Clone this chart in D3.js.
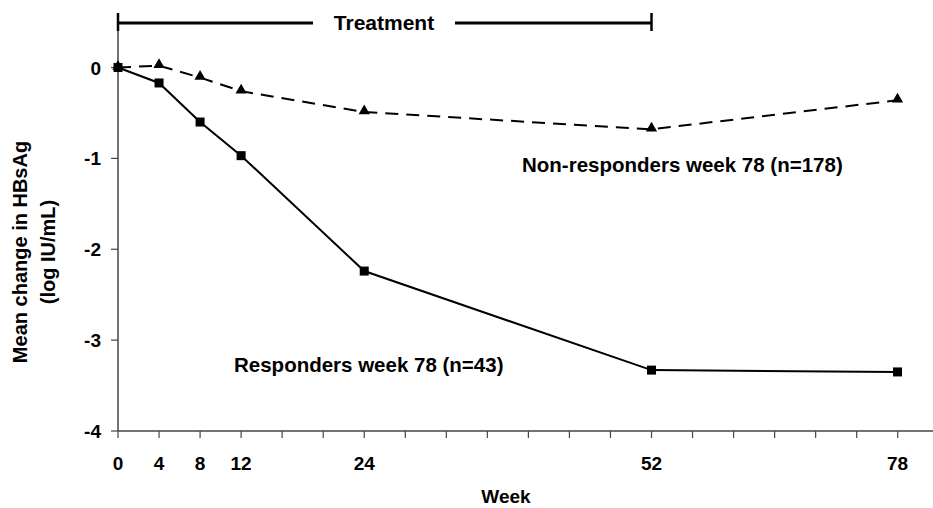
<!DOCTYPE html>
<html>
<head>
<meta charset="utf-8">
<script src="https://cdn.jsdelivr.net/npm/d3@7"></script>
<style>
  body { margin: 0; background: #fff; }
  text { font-family: "Liberation Sans", Arial, sans-serif; font-weight: bold; fill: #000; }
</style>
</head>
<body>
<div id="chart"></div>
<script>
// data
var weeks = [0, 4, 8, 12, 24, 52, 78];
var responders = [0, -0.17, -0.60, -0.97, -2.24, -3.33, -3.35];
var nonResponders = [0, 0.02, -0.11, -0.26, -0.49, -0.68, -0.36];
var xTickLabels = [0, 4, 8, 12, 24, 52, 78];
var yTickLabels = [0, -1, -2, -3, -4];
var treatmentWeeks = [0, 52];

var width = 933, height = 508;

var svg = d3.select("#chart")
  .append("svg")
  .attr("width", width)
  .attr("height", height);

// x axis in the original is not linear after week 52 (78 sits where 76 would be)
var x = d3.scaleLinear()
  .domain([0, 52, 78])
  .range([118, 651.5, 897.5]);
var y = d3.scaleLinear()
  .domain([-4, 0.6])
  .range([431, 13]);

var step = x(4) - x(0);
var minorTicks = d3.range(0, 20).map(function(i) { return x.invert(x(0) + i * step); });

// axes
var axisColor = "#444";
svg.append("line")
  .attr("x1", x(0)).attr("x2", x(0))
  .attr("y1", y(0.6)).attr("y2", y(-4))
  .attr("stroke", axisColor).attr("stroke-width", 1.5);
svg.append("line")
  .attr("x1", x(0)).attr("x2", width)
  .attr("y1", y(-4)).attr("y2", y(-4))
  .attr("stroke", axisColor).attr("stroke-width", 1.5);

svg.selectAll(".ytick")
  .data(yTickLabels)
  .enter()
  .append("line")
  .attr("x1", x(0) - 7).attr("x2", x(0))
  .attr("y1", function(d) { return y(d); })
  .attr("y2", function(d) { return y(d); })
  .attr("stroke", axisColor).attr("stroke-width", 1.2);

svg.selectAll(".ylab")
  .data(yTickLabels)
  .enter()
  .append("text")
  .attr("x", 101)
  .attr("y", function(d) { return y(d) + 7; })
  .attr("text-anchor", "end")
  .attr("font-size", 19)
  .text(function(d) { return d; });

svg.selectAll(".xtick")
  .data(minorTicks)
  .enter()
  .append("line")
  .attr("x1", function(d) { return x(d); })
  .attr("x2", function(d) { return x(d); })
  .attr("y1", y(-4)).attr("y2", y(-4) + 7)
  .attr("stroke", axisColor).attr("stroke-width", 1.2);

svg.selectAll(".xlab")
  .data(xTickLabels)
  .enter()
  .append("text")
  .attr("x", function(d) { return x(d); })
  .attr("y", 470)
  .attr("text-anchor", "middle")
  .attr("font-size", 19)
  .text(function(d) { return d; });

svg.append("text")
  .attr("x", 506).attr("y", 503)
  .attr("text-anchor", "middle")
  .attr("font-size", 19)
  .text("Week");

var yTitle = svg.append("text")
  .attr("transform", "translate(34,252) rotate(-90)")
  .attr("text-anchor", "middle")
  .attr("font-size", 20);
yTitle.append("tspan").attr("x", 0).attr("dy", -7).text("Mean change in HBsAg");
yTitle.append("tspan").attr("x", 0).attr("dy", 28).text("(log IU/mL)");

// treatment bar
var barY = 23;
svg.append("line")
  .attr("x1", x(treatmentWeeks[0])).attr("x2", 313)
  .attr("y1", barY).attr("y2", barY)
  .attr("stroke", "#000").attr("stroke-width", 3);
svg.append("line")
  .attr("x1", 455).attr("x2", x(treatmentWeeks[1]))
  .attr("y1", barY).attr("y2", barY)
  .attr("stroke", "#000").attr("stroke-width", 3);
svg.selectAll(".cap")
  .data(treatmentWeeks)
  .enter()
  .append("line")
  .attr("x1", function(d) { return x(d); })
  .attr("x2", function(d) { return x(d); })
  .attr("y1", barY - 10).attr("y2", barY + 8)
  .attr("stroke", "#000").attr("stroke-width", 2.5);
svg.append("text")
  .attr("x", 384).attr("y", 30)
  .attr("text-anchor", "middle")
  .attr("font-size", 21)
  .text("Treatment");

// lines
var line = d3.line()
  .x(function(d) { return x(d[0]); })
  .y(function(d) { return y(d[1]); });

svg.append("path")
  .datum(d3.zip(weeks, nonResponders))
  .attr("d", line)
  .attr("fill", "none")
  .attr("stroke", "#000")
  .attr("stroke-width", 2)
  .attr("stroke-dasharray", "13,8");

svg.append("path")
  .datum(d3.zip(weeks, responders))
  .attr("d", line)
  .attr("fill", "none")
  .attr("stroke", "#000")
  .attr("stroke-width", 2);

svg.selectAll(".tri")
  .data(d3.zip(weeks, nonResponders))
  .enter()
  .append("path")
  .attr("d", d3.symbol().type(d3.symbolTriangle).size(55))
  .attr("transform", function(d) { return "translate(" + x(d[0]) + "," + (y(d[1]) - 1) + ")"; })
  .attr("fill", "#000");

svg.selectAll(".sq")
  .data(d3.zip(weeks, responders))
  .enter()
  .append("rect")
  .attr("x", function(d) { return x(d[0]) - 4.5; })
  .attr("y", function(d) { return y(d[1]) - 4.5; })
  .attr("width", 9).attr("height", 9)
  .attr("fill", "#000");

// series labels
svg.append("text")
  .attr("x", 522).attr("y", 172)
  .attr("font-size", 20.5)
  .text("Non-responders week 78 (n=178)");
svg.append("text")
  .attr("x", 234).attr("y", 372)
  .attr("font-size", 20.5)
  .text("Responders week 78 (n=43)");
</script>
</body>
</html>
